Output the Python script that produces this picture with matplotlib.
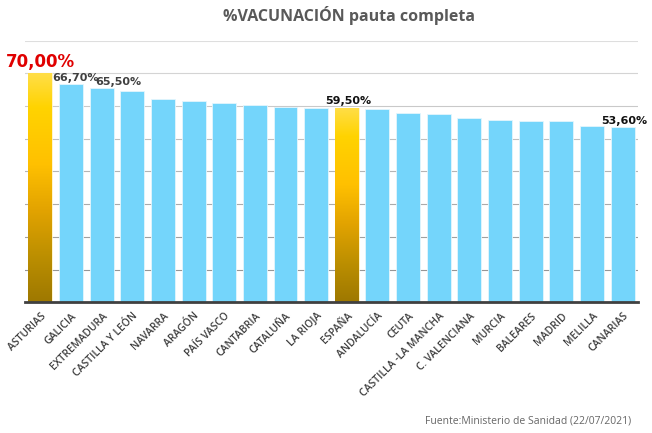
import numpy as np
import matplotlib.pyplot as plt
from matplotlib.colors import LinearSegmentedColormap

# Datos (% población con pauta completa)
regiones = ["ASTURIAS", "GALICIA", "EXTREMADURA", "CASTILLA Y LEÓN", "NAVARRA",
            "ARAGÓN", "PAÍS VASCO", "CANTABRIA", "CATALUÑA", "LA RIOJA",
            "ESPAÑA", "ANDALUCÍA", "CEUTA", "CASTILLA -LA MANCHA", "C. VALENCIANA",
            "MURCIA", "BALEARES", "MADRID", "MELILLA", "CANARIAS"]
valores = [70.0, 66.7, 65.5, 64.7, 62.2,
           61.4, 60.9, 60.4, 59.8, 59.4,
           59.5, 59.2, 58.0, 57.7, 56.4,
           55.8, 55.5, 55.5, 54.0, 53.6]
destacadas = ["ASTURIAS", "ESPAÑA"]
etiquetas = {"ASTURIAS": "70,00%", "GALICIA": "66,70%", "EXTREMADURA": "65,50%",
             "ESPAÑA": "59,50%", "CANARIAS": "53,60%"}

azul = "#74D5FB"
oro = LinearSegmentedColormap.from_list(
    "oro", [(0.0, "#9E7800"), (0.2, "#BC8F00"), (0.4, "#E2A300"),
            (0.6, "#FFC000"), (0.85, "#FFD300"), (1.0, "#FFDE48")])

fig = plt.figure(figsize=(6.52, 4.33), dpi=100)
ax = fig.add_axes([0.0383, 0.3018, 0.9402, 0.6044])

x = np.arange(len(regiones))
colores = [azul if r not in destacadas else "none" for r in regiones]
barras = ax.bar(x, valores, width=0.78, color=colores, edgecolor="#E4F6FD",
                linewidth=0.6, zorder=2)

# degradado para las barras destacadas
grad = np.linspace(0, 1, 256).reshape(-1, 1)
for r, b in zip(regiones, barras):
    if r in destacadas:
        x0, y0 = b.get_x(), b.get_y()
        im = ax.imshow(grad, cmap=oro, origin="lower", aspect="auto",
                       extent=[x0, x0 + b.get_width(), y0, y0 + b.get_height()],
                       zorder=2)
        im.set_clip_path(b)
        b.set_edgecolor("#FFF3C0")

ax.set_xlim(-0.5, len(regiones) - 0.5)
ax.set_ylim(0, 80)

# rejilla
for v in range(10, 90, 10):
    g = 0.55 + 0.32 * (v / 80)
    ax.axhline(v, color=(g, g, g), linewidth=0.8, zorder=1)

for s in ["left", "right", "top"]:
    ax.spines[s].set_visible(False)
ax.spines["bottom"].set_color("#404040")
ax.spines["bottom"].set_linewidth(2)
ax.set_yticks([])
ax.set_xticks(x)
ax.set_xticklabels(regiones, rotation=45, ha="right", rotation_mode="anchor",
                   fontsize=7.5, fontweight="semibold", color="#404040",
                   family="Open Sans")
ax.tick_params(axis="x", length=0, pad=6)

# etiquetas de valor
for r, v in zip(regiones, valores):
    if r not in etiquetas:
        continue
    i = regiones.index(r)
    if r == "ASTURIAS":
        ax.annotate(etiquetas[r], (i, v), xytext=(0, 2), textcoords="offset points",
                    ha="center", va="bottom", fontsize=12, fontweight="bold",
                    color="#E00000")
    elif r in ("GALICIA", "EXTREMADURA"):
        ax.annotate(etiquetas[r], (i, v), xytext=(3 if r == "GALICIA" else 12, 1),
                    textcoords="offset points", ha="center", va="bottom",
                    fontsize=8, fontweight="bold", color="#404040")
    else:
        ax.annotate(etiquetas[r], (i, v), xytext=(1, 1), textcoords="offset points",
                    ha="center", va="bottom", fontsize=8, fontweight="bold",
                    color="#111111")

fig.text(0.535, 0.965, "%VACUNACIÓN pauta completa", ha="center", va="center",
         fontsize=11.5, fontweight="bold", color="#595959", family="Open Sans")
fig.text(0.968, 0.028, "Fuente:Ministerio de Sanidad (22/07/2021)", ha="right",
         va="center", fontsize=7.5, color="#666666", family="Open Sans")

fig.savefig("out.png", dpi=100)
